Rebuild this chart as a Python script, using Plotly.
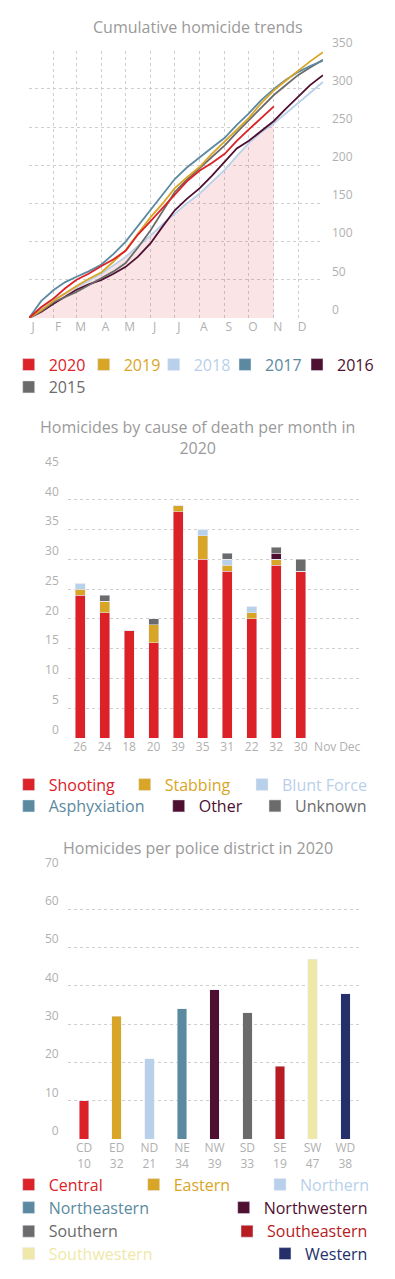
import plotly.graph_objects as go

W, H = 395, 1279
FONT = "Open Sans"
GRID = "#cfcfcf"
TICK = "#b0b0b0"
TITLE = "#9a9a9a"

# ---------------- Chart 1: cumulative homicide trends ----------------
days = [0, 15, 31, 45, 59, 74, 90, 105, 120, 135, 151, 166, 181, 196, 212, 227,
        243, 258, 273, 288, 304, 319, 334, 349, 365]
month_start_days = [0, 31, 59, 90, 120, 151, 181, 212, 243, 273, 304, 334, 365]
month_letters = ["J", "F", "M", "A", "M", "J", "J", "A", "S", "O", "N", "D", ""]
cum_ticks = [0, 50, 100, 150, 200, 250, 300, 350]

cum_2020 = [0, 14, 26, 39, 50, 58, 68, 77, 88, 109, 127, 144, 162, 179, 193, 203,
            215, 232, 247, 261, 277]
cum_2019 = [0, 10, 23, 33, 42, 51, 60, 74, 89, 110, 132, 150, 170, 184, 198, 215,
            231, 246, 262, 281, 298, 311, 324, 336, 348]
cum_2018 = [0, 12, 25, 32, 40, 49, 58, 69, 80, 94, 108, 123, 137, 150, 163, 178,
            194, 212, 229, 243, 255, 268, 281, 295, 309]
cum_2017 = [0, 22, 37, 47, 54, 61, 70, 84, 100, 120, 142, 162, 182, 197, 211, 223,
            236, 253, 268, 285, 300, 312, 322, 330, 337]
cum_2016 = [0, 8, 19, 28, 37, 44, 50, 58, 67, 80, 98, 120, 141, 156, 170, 186,
            204, 222, 232, 244, 258, 274, 290, 305, 318]
cum_2015 = [0, 9, 21, 27, 34, 43, 52, 61, 72, 92, 115, 140, 165, 181, 196, 211,
            226, 243, 259, 276, 292, 305, 318, 328, 338]
shade_until_day = 304

years = ["2020", "2019", "2018", "2017", "2016", "2015"]
year_series = {"2020": cum_2020, "2019": cum_2019, "2018": cum_2018,
               "2017": cum_2017, "2016": cum_2016, "2015": cum_2015}
year_colors = {"2020": "#dc2127", "2019": "#d9a526", "2018": "#b9d0ea",
               "2017": "#5b8aa0", "2016": "#4e0f30", "2015": "#6b6b6b"}
draw_order = ["2018", "2016", "2015", "2017", "2019", "2020"]

# ---------------- Chart 2: cause of death per month ----------------
months = ["Jan", "Feb", "Mar", "Apr", "May", "Jun", "Jul", "Aug", "Sep", "Oct", "Nov", "Dec"]
causes = ["Shooting", "Stabbing", "Blunt Force", "Asphyxiation", "Other", "Unknown"]
shooting = [24, 21, 18, 16, 38, 30, 28, 20, 29, 28]
stabbing = [1, 2, 0, 3, 1, 4, 1, 1, 1, 0]
blunt_force = [1, 0, 0, 0, 0, 1, 1, 1, 0, 0]
asphyxiation = [0, 0, 0, 0, 0, 0, 0, 0, 0, 0]
other = [0, 0, 0, 0, 0, 0, 0, 0, 1, 0]
unknown = [0, 1, 0, 1, 0, 0, 1, 0, 1, 2]
cause_series = [shooting, stabbing, blunt_force, asphyxiation, other, unknown]
cause_colors = ["#dc2127", "#d9a526", "#b9d0ea", "#5b8aa0", "#4e0f30", "#6b6b6b"]
cause_ticks = [0, 5, 10, 15, 20, 25, 30, 35, 40, 45]

# ---------------- Chart 3: per police district ----------------
district_codes = ["CD", "ED", "ND", "NE", "NW", "SD", "SE", "SW", "WD"]
district_names = ["Central", "Eastern", "Northern", "Northeastern", "Northwestern",
                  "Southern", "Southeastern", "Southwestern", "Western"]
district_values = [10, 32, 21, 34, 39, 33, 19, 47, 38]
district_colors = ["#dc2127", "#d9a526", "#b9d0ea", "#5b8aa0", "#4e0f30",
                   "#6b6b6b", "#b61c22", "#efe8a8", "#25306b"]
district_ticks = [0, 10, 20, 30, 40, 50, 60, 70]

# legend placement (text-start pixel, row-center pixel)
legend_pos_c1 = [(46.7, 364.7), (121.7, 364.7), (191.7, 364.7), (263, 364.7),
                 (335, 364.7), (46.7, 387)]
legend_pos_c2 = [(46.7, 784.7), (162.7, 784.7), (280, 784.7),
                 (46.7, 806), (196.7, 806), (293, 806)]
legend_pos_c3 = [(46.7, 1184.7), (171.7, 1184.7), (298, 1184.7),
                 (46.7, 1207.7), (261.7, 1207.7),
                 (46.7, 1231.3), (265, 1231.3),
                 (46.7, 1253.7), (303, 1253.7)]
LEG_OFF = 38

fig = go.Figure()
legend_layouts = {}
legend_counter = [0]


def new_legend(pos, color):
    legend_counter[0] += 1
    n = legend_counter[0]
    key = "legend" if n == 1 else f"legend{n}"
    legend_layouts[key] = dict(
        x=(pos[0] - LEG_OFF) / W, y=1 - pos[1] / H, xanchor="left", yanchor="middle",
        bgcolor="rgba(0,0,0,0)", borderwidth=0, orientation="h",
        font=dict(family=FONT, size=16, color=color), itemclick=False,
        itemdoubleclick=False,
    )
    return key


# chart 1 shading and lines
shade_days = [d for d in days if d <= shade_until_day]
fig.add_trace(go.Scatter(
    x=shade_days, y=cum_2018[:len(shade_days)], mode="lines", line=dict(width=0),
    fill="tozeroy", fillcolor="rgba(220,33,39,0.12)", showlegend=False,
    hoverinfo="skip", xaxis="x", yaxis="y"))
for yr in draw_order:
    vals = year_series[yr]
    fig.add_trace(go.Scatter(
        x=days[:len(vals)], y=vals, mode="lines", name=yr,
        line=dict(color=year_colors[yr], width=1.8), showlegend=False,
        xaxis="x", yaxis="y"))
for yr, pos in zip(years, legend_pos_c1):
    key = new_legend(pos, year_colors[yr])
    fig.add_trace(go.Bar(x=[None], y=[None], name=yr, marker_color=year_colors[yr],
                         legend=key, showlegend=True, xaxis="x", yaxis="y"))

# chart 2 stacked bars
for name, vals, col, pos in zip(causes, cause_series, cause_colors, legend_pos_c2):
    key = new_legend(pos, col)
    fig.add_trace(go.Bar(x=months[:len(vals)], y=vals, name=name, marker_color=col,
                         width=0.41, legend=key, xaxis="x2", yaxis="y2"))
month_totals = [sum(s[i] for s in cause_series) for i in range(len(shooting))]
month_ticktext = [str(month_totals[i]) if i < len(month_totals) else months[i]
                  for i in range(len(months))]

# chart 3 bars
for code, name, val, col, pos in zip(district_codes, district_names, district_values,
                                     district_colors, legend_pos_c3):
    key = new_legend(pos, col)
    fig.add_trace(go.Bar(x=[code], y=[val], name=name, marker_color=col, width=0.29,
                         legend=key, xaxis="x3", yaxis="y3"))
district_ticktext = [f"{c}<br>{v}" for c, v in zip(district_codes, district_values)]

axis_common = dict(showline=False, zeroline=False, ticks="", fixedrange=True,
                   tickfont=dict(family=FONT, size=12, color=TICK))

fig.update_layout(
    width=W, height=H, margin=dict(l=0, r=0, t=0, b=0, pad=0, autoexpand=False),
    paper_bgcolor="white", plot_bgcolor="white",
    font=dict(family=FONT, color=TITLE),
    barmode="stack", showlegend=True,
    xaxis=dict(domain=[29 / W, 323 / W], range=[0, 365], tickmode="array",
               tickvals=month_start_days, ticktext=month_letters, showgrid=True,
               gridcolor=GRID, griddash="dot", gridwidth=1, ticklabelshift=4,
               **axis_common),
    yaxis=dict(domain=[1 - 318 / H, 1 - 50.7 / H], range=[0, 350], tickmode="array",
               tickvals=cum_ticks, side="right", anchor="x", showgrid=True,
               gridcolor=GRID, griddash="dot", gridwidth=1,
               ticklabelposition="outside top", ticklabelstandoff=8, **axis_common),
    xaxis2=dict(domain=[67.8 / W, 362 / W], type="category", categoryorder="array",
                categoryarray=months, range=[-0.5, 11.5], tickmode="array",
                tickvals=months, ticktext=month_ticktext, showgrid=False,
                anchor="y2", **axis_common),
    yaxis2=dict(domain=[1 - 738 / H, 1 - 470 / H], range=[0, 45], tickmode="array",
                tickvals=cause_ticks, anchor="x2", showgrid=True, gridcolor=GRID,
                griddash="dot", ticklabelposition="outside top", ticklabelstandoff=8,
                **axis_common),
    xaxis3=dict(domain=[67.7 / W, 361.6 / W], type="category", categoryorder="array",
                categoryarray=district_codes, range=[-0.5, 8.5], tickmode="array",
                tickvals=district_codes, ticktext=district_ticktext, showgrid=False,
                anchor="y3", **axis_common),
    yaxis3=dict(domain=[1 - 1139 / H, 1 - 871 / H], range=[0, 70], tickmode="array",
                tickvals=district_ticks, anchor="x3", showgrid=True, gridcolor=GRID,
                griddash="dot", ticklabelposition="outside top", ticklabelstandoff=8,
                **axis_common),
    annotations=[
        dict(text="Cumulative homicide trends", x=0.5, y=1 - 27 / H, xref="paper",
             yref="paper", xanchor="center", yanchor="middle", showarrow=False,
             font=dict(family=FONT, size=16, color=TITLE)),
        dict(text="Homicides by cause of death per month in<br>2020", x=0.5,
             y=1 - 437.5 / H, xref="paper", yref="paper", xanchor="center",
             yanchor="middle", showarrow=False,
             font=dict(family=FONT, size=16, color=TITLE)),
        dict(text="Homicides per police district in 2020", x=0.5, y=1 - 848 / H,
             xref="paper", yref="paper", xanchor="center", yanchor="middle",
             showarrow=False, font=dict(family=FONT, size=16, color=TITLE)),
    ],
    **legend_layouts,
)

fig.write_html("out.html", config={"displayModeBar": False},
               post_script="document.body.style.margin='0';document.body.style.overflow='hidden';")
